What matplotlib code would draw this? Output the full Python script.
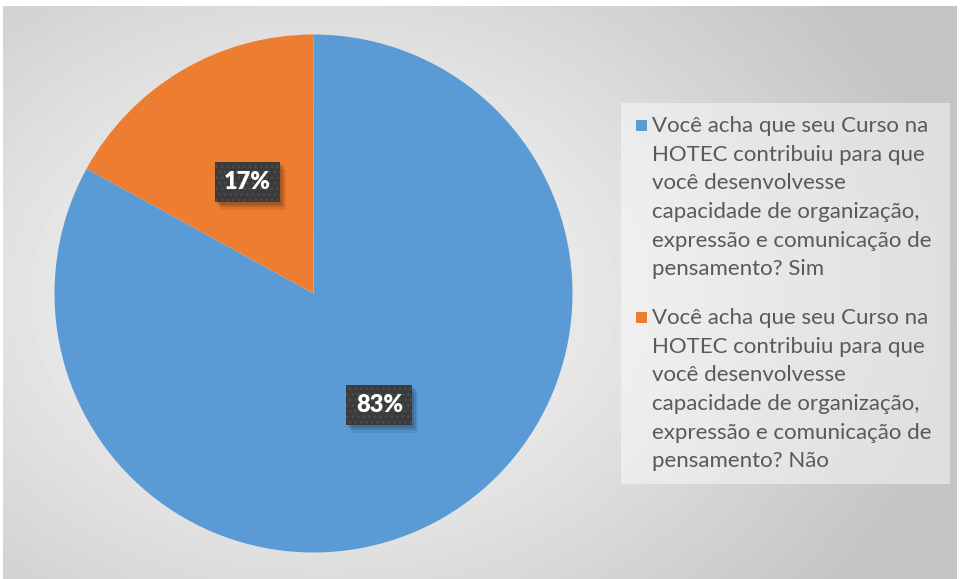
import numpy as np
import matplotlib
matplotlib.use("Agg")
import matplotlib.pyplot as plt
from matplotlib.patches import Rectangle

# data
labels = [
    "Você acha que seu Curso na\nHOTEC contribuiu para que\nvocê desenvolvesse\ncapacidade de organização,\nexpressão e comunicação de\npensamento? Sim",
    "Você acha que seu Curso na\nHOTEC contribuiu para que\nvocê desenvolvesse\ncapacidade de organização,\nexpressão e comunicação de\npensamento? Não",
]
values = [83, 17]
colors = ["#5B9BD5", "#ED7D31"]

W, H = 961, 579
fig = plt.figure(figsize=(W / 100, H / 100), dpi=100)
fig.patch.set_facecolor("white")

# background with radial gradient
bg = fig.add_axes([3 / W, 0, 954 / W, 573 / H])
yy, xx = np.mgrid[0:573, 0:954]
d = np.sqrt(((xx - 320) / 640.0) ** 2 + ((yy - 290) / 480.0) ** 2)
shade = np.clip(1.0 - 0.23 * d, 0.77, 1.0)
bg.imshow(shade, cmap="gray", vmin=0, vmax=1, aspect="auto", interpolation="bilinear")
bg.set_axis_off()

# pie
ax = fig.add_axes([(313.5 - 259) / W, 1 - (293.5 + 259) / H, 518 / W, 518 / H])
ax.set_aspect("equal")
wedges, texts, autotexts = ax.pie(
    values, colors=colors, startangle=90, counterclock=False,
    autopct="%d%%", pctdistance=0.5, radius=1.0,
    wedgeprops=dict(linewidth=0),
    textprops=dict(color="white", fontsize=17, fontweight="heavy", family="Lato"),
)
ax.set_xlim(-1, 1)
ax.set_ylim(-1, 1)
for t in autotexts:
    t.set_bbox(dict(boxstyle="square,pad=0.4", facecolor="#3b3b3b",
                    edgecolor="#4e4e4e", hatch="...", linewidth=0))
    t.set_zorder(5)

# soft drop shadow behind the label boxes (drawn between wedges and labels)
fig.canvas.draw()
for t in autotexts:
    bb = t.get_bbox_patch().get_window_extent()
    for k, a in [(2, 0.12), (4, 0.12), (6, 0.08)]:
        ax.add_patch(Rectangle(((bb.x0 + k) / W, (bb.y0 - k * 1.2) / H),
                               bb.width / W, bb.height / H, transform=fig.transFigure,
                               facecolor="black", alpha=a, linewidth=0, zorder=4,
                               clip_on=False))

# legend panel
panel = Rectangle((621 / W, 1 - 484 / H), 329 / W, 381 / H, transform=fig.transFigure,
                  facecolor="white", alpha=0.45, edgecolor="none")
fig.patches.append(panel)

# legend entries (marker + multi-line label)
tops = [116, 308]
for lab, col, top in zip(labels, colors, tops):
    fig.patches.append(Rectangle((636 / W, 1 - (top + 15) / H), 11 / W, 11 / H,
                                 transform=fig.transFigure, facecolor=col, edgecolor="none"))
    fig.text(652 / W, 1 - top / H, lab, ha="left", va="top", color="#595959",
             family="Lato", fontsize=16, linespacing=1.54)

fig.savefig("out.png", dpi=100)
